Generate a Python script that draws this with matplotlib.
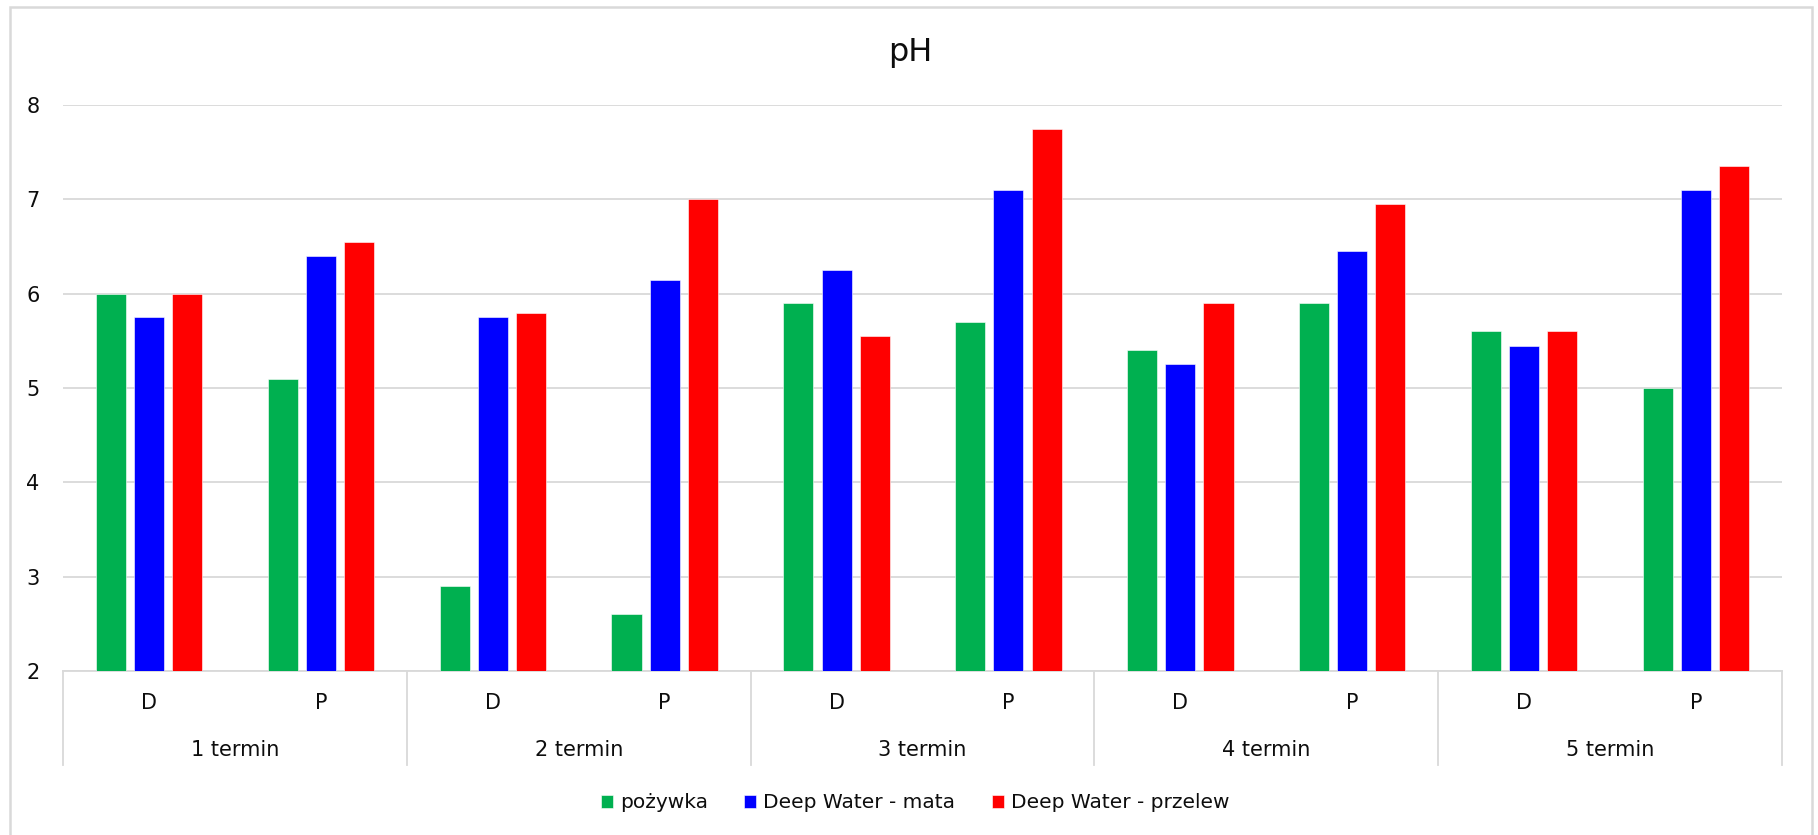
import matplotlib
matplotlib.use('Agg')
import matplotlib.pyplot as plt
from matplotlib.patches import Rectangle
from matplotlib.lines import Line2D

# measurement dates and sampling points
TERMS = ['1 termin', '2 termin', '3 termin', '4 termin', '5 termin']
POINTS = ['D', 'P']
SERIES = ['pożywka', 'Deep Water - mata', 'Deep Water - przelew']
COLORS = ['#00B050', '#0000FF', '#FF0000']

# pH per sampling point, in order 1D, 1P, 2D, 2P, ...
POZYWKA = [6.0, 5.1, 2.9, 2.6, 5.9, 5.7, 5.4, 5.9, 5.6, 5.0]
MATA = [5.75, 6.4, 5.75, 6.15, 6.25, 7.1, 5.25, 6.45, 5.45, 7.1]
PRZELEW = [6.0, 6.55, 5.8, 7.0, 5.55, 7.75, 5.9, 6.95, 5.6, 7.35]

W, H = 1818, 835
GRID = '#D9D9D9'
TXT = '#0d0d0d'
FS = 15


def main():
    fig = plt.figure(figsize=(W / 100, H / 100), dpi=100)
    ax = fig.add_axes([63 / W, 1 - 671 / H, (1782 - 63) / W, (671 - 105) / H])

    n = len(TERMS) * len(POINTS)
    xs = list(range(n))
    width = 0.175
    step = 0.222
    handles = []
    for k, (vals, col, name) in enumerate(zip([POZYWKA, MATA, PRZELEW], COLORS, SERIES)):
        off = (k - 1) * step
        b = ax.bar([x + off for x in xs], [v - 2 for v in vals], width=width,
                   bottom=2, color=col, edgecolor='white', linewidth=0.4,
                   label=name, zorder=3)
        handles.append(b)

    ax.set_xlim(-0.5, n - 0.5)
    ax.set_ylim(2, 8)
    ax.set_yticks(range(2, 9))
    ax.yaxis.grid(True, color=GRID, linewidth=1.3, zorder=0)
    ax.set_axisbelow(True)
    for s in ['top', 'right', 'left']:
        ax.spines[s].set_visible(False)
    ax.spines['bottom'].set_color(GRID)
    ax.spines['bottom'].set_linewidth(1.3)
    ax.tick_params(axis='y', length=0, pad=17, labelsize=FS, labelcolor=TXT)
    ax.set_xticks([])

    # two-level category axis
    tr = ax.get_xaxis_transform()
    axh = 671 - 105
    y_pt = -(703 - 671) / axh
    y_term = -(750 - 671) / axh
    y_sep = -(765 - 671) / axh
    for i in range(n):
        ax.text(i, y_pt, POINTS[i % 2], transform=tr, ha='center', va='center',
                fontsize=FS, color=TXT)
    for j, t in enumerate(TERMS):
        ax.text(2 * j + 0.5, y_term, t, transform=tr, ha='center', va='center',
                fontsize=FS, color=TXT)
    for j in range(len(TERMS) + 1):
        ax.add_line(Line2D([2 * j - 0.5, 2 * j - 0.5], [0, y_sep], transform=tr,
                           color=GRID, linewidth=1.3, clip_on=False))

    fig.text(910 / W, 1 - 53 / H, 'pH', ha='center', va='center',
             fontsize=23, color=TXT)

    fig.legend(handles=handles, loc='center', bbox_to_anchor=(915 / W, 1 - 803 / H),
               ncol=3, frameon=False, fontsize=14.5, handlelength=0.6,
               handleheight=0.6, handletextpad=0.35, columnspacing=1.8,
               labelcolor=TXT)

    # chart frame
    fig.patches.append(Rectangle((10 / W, -0.02), (1812 - 10) / W, 1 - 7 / H + 0.02,
                                 transform=fig.transFigure, fill=False,
                                 edgecolor=GRID, linewidth=1.8))

    fig.savefig('out.png', dpi=100, facecolor='white')


if __name__ == '__main__':
    main()
